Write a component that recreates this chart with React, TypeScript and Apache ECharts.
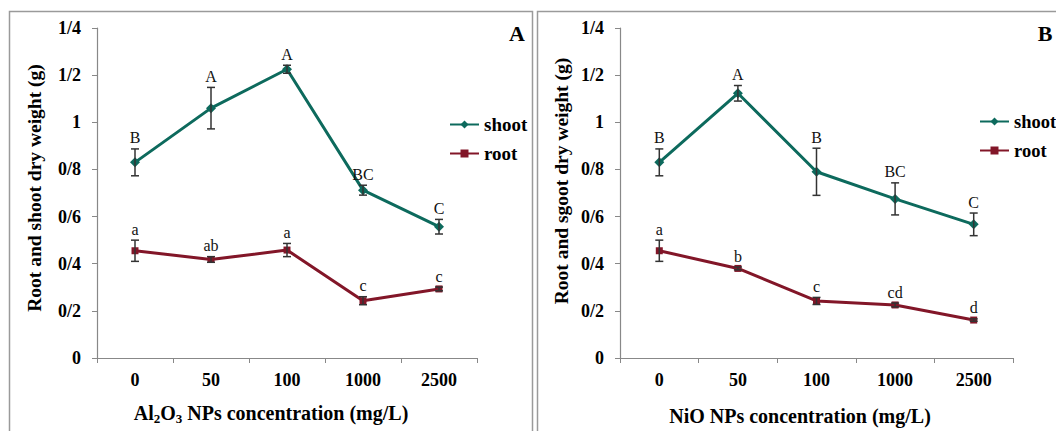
import React, { useEffect, useRef } from "react";
import * as echarts from "echarts";

const categories = ["0", "50", "100", "1000", "2500"];
const yTicks = [0, 0.2, 0.4, 0.6, 0.8, 1, 1.2, 1.4];

// Panel A (Al2O3)
const shootA = [0.83, 1.06, 1.225, 0.712, 0.557];
const shootAErr = [0.057, 0.088, 0.017, 0.021, 0.031];
const shootALetters = ["B", "A", "A", "BC", "C"];
const rootA = [0.455, 0.418, 0.458, 0.243, 0.293];
const rootAErr = [0.045, 0.012, 0.028, 0.017, 0.008];
const rootALetters = ["a", "ab", "a", "c", "c"];

// Panel B (NiO)
const shootB = [0.83, 1.123, 0.79, 0.675, 0.567];
const shootBErr = [0.057, 0.033, 0.1, 0.068, 0.048];
const shootBLetters = ["B", "A", "B", "BC", "C"];
const rootB = [0.455, 0.38, 0.242, 0.225, 0.161];
const rootBErr = [0.045, 0.006, 0.015, 0.008, 0.005];
const rootBLetters = ["a", "b", "c", "cd", "d"];

const SERIF = "Liberation Serif";
const SHOOT = "#0d6a5d";
const ROOT = "#821628";

function fmt(v: number) {
  const r = Math.round(v * 10) / 10;
  return String(r).replace(".", "/");
}

function errSeries(
  idx: number,
  values: number[],
  errs: number[],
  letters: string[]
) {
  return {
    type: "custom",
    xAxisIndex: idx,
    yAxisIndex: idx,
    silent: true,
    z: 5,
    data: values.map((v, i) => [i, v, errs[i]]),
    renderItem: (params: any, api: any) => {
      const x = api.value(0);
      const v = api.value(1);
      const e = api.value(2);
      const top = api.coord([x, v + e]);
      const bot = api.coord([x, v - e]);
      const cap = 4;
      const st = { stroke: "#333", lineWidth: 1.5 };
      return {
        type: "group",
        children: [
          { type: "line", shape: { x1: top[0], y1: top[1], x2: bot[0], y2: bot[1] }, style: st },
          { type: "line", shape: { x1: top[0] - cap, y1: top[1], x2: top[0] + cap, y2: top[1] }, style: st },
          { type: "line", shape: { x1: bot[0] - cap, y1: bot[1], x2: bot[0] + cap, y2: bot[1] }, style: st },
          {
            type: "text",
            x: top[0],
            y: top[1] - 3,
            style: {
              text: letters[params.dataIndex],
              textAlign: "center",
              textVerticalAlign: "bottom",
              fontFamily: SERIF,
              fontSize: 16,
              fill: "#111",
            },
          },
        ],
      };
    },
  };
}

function lineSeries(name: string, idx: number, values: number[], color: string, symbol: string, size: number) {
  return {
    name,
    type: "line",
    xAxisIndex: idx,
    yAxisIndex: idx,
    data: values,
    symbol,
    symbolSize: size,
    showSymbol: true,
    lineStyle: { color, width: 3 },
    itemStyle: { color },
    z: 3,
  };
}

function xAxis(idx: number) {
  return {
    type: "category",
    gridIndex: idx,
    data: categories,
    boundaryGap: true,
    axisLine: { show: true, lineStyle: { color: "#888", width: 1.2 } },
    axisTick: { show: true, alignWithLabel: false, length: 5, lineStyle: { color: "#888" } },
    axisLabel: { fontFamily: SERIF, fontWeight: "bold", fontSize: 18, color: "#000", margin: 13 },
    splitLine: { show: false },
  };
}

function yAxis(idx: number) {
  return {
    type: "value",
    gridIndex: idx,
    min: yTicks[0],
    max: yTicks[yTicks.length - 1],
    interval: 0.2,
    axisLine: { show: true, lineStyle: { color: "#888", width: 1.2 } },
    axisTick: { show: true, length: 5, lineStyle: { color: "#888" } },
    axisLabel: {
      fontFamily: SERIF,
      fontWeight: "bold",
      fontSize: 18,
      color: "#000",
      margin: 16,
      formatter: (v: number) => fmt(v),
    },
    splitLine: { show: false },
  };
}

const nameStyle = { fontFamily: SERIF, fontWeight: "bold", fontSize: 19.5, fill: "#000" };
const legendText = { fontFamily: SERIF, fontWeight: "bold", fontSize: 19, color: "#000" };

export default function App() {
  const ref = useRef<HTMLDivElement>(null);
  useEffect(() => {
    if (!ref.current) return;
    const chart = echarts.init(ref.current, undefined, { renderer: "svg" });
    chart.setOption({
      animation: false,
      backgroundColor: "#fff",
      grid: [
        { left: 97, top: 28, width: 380, height: 330 },
        { left: 620, top: 28, width: 393, height: 330 },
      ],
      xAxis: [xAxis(0), xAxis(1)],
      yAxis: [yAxis(0), yAxis(1)],
      legend: [
        {
          data: ["shoot", "root"],
          orient: "vertical",
          left: 449,
          top: 115,
          padding: 0,
          itemWidth: 29,
          itemHeight: 10,
          itemGap: 10,
          textStyle: legendText,
        },
        {
          data: ["shoot", "root"],
          orient: "vertical",
          left: 979,
          top: 112,
          padding: 0,
          itemWidth: 29,
          itemHeight: 10,
          itemGap: 10,
          textStyle: { ...legendText, fontSize: 18.5 },
        },
      ],
      series: [
        lineSeries("shoot", 0, shootA, SHOOT, "diamond", 10),
        lineSeries("root", 0, rootA, ROOT, "rect", 7),
        lineSeries("shoot", 1, shootB, SHOOT, "diamond", 10),
        lineSeries("root", 1, rootB, ROOT, "rect", 7),
        errSeries(0, shootA, shootAErr, shootALetters),
        errSeries(0, rootA, rootAErr, rootALetters),
        errSeries(1, shootB, shootBErr, shootBLetters),
        errSeries(1, rootB, rootBErr, rootBLetters),
      ],
      graphic: [
        { type: "rect", shape: { x: 9.5, y: 11.5, width: 523, height: 440 }, style: { fill: "none", stroke: "#9a9a9a", lineWidth: 1.5 } },
        { type: "rect", shape: { x: 537.5, y: 11.5, width: 540, height: 440 }, style: { fill: "none", stroke: "#9a9a9a", lineWidth: 1.5 } },
        { type: "text", x: 517, y: 33, style: { text: "A", textAlign: "center", textVerticalAlign: "middle", fontFamily: SERIF, fontWeight: "bold", fontSize: 22, fill: "#000" } },
        { type: "text", x: 1045, y: 33, style: { text: "B", textAlign: "center", textVerticalAlign: "middle", fontFamily: SERIF, fontWeight: "bold", fontSize: 22, fill: "#000" } },
        { type: "text", x: 34, y: 188, rotation: Math.PI / 2, style: { text: "Root and shoot dry weight (g)", textAlign: "center", textVerticalAlign: "middle", ...nameStyle } },
        { type: "text", x: 561, y: 181, rotation: Math.PI / 2, style: { text: "Root and sgoot dry weight (g)", textAlign: "center", textVerticalAlign: "middle", ...nameStyle } },
        {
          type: "text",
          x: 271,
          y: 413,
          style: {
            text: "{n|Al}{s|2}{n|O}{s|3}{n| NPs concentration (mg/L)}",
            textAlign: "center",
            textVerticalAlign: "middle",
            rich: {
              n: { fontFamily: SERIF, fontWeight: "bold", fontSize: 20, color: "#000" },
              s: { fontFamily: SERIF, fontWeight: "bold", fontSize: 13, color: "#000", padding: [10, 0, 0, 0] },
            },
          },
        },
        { type: "text", x: 800, y: 416, style: { text: "NiO NPs concentration (mg/L)", textAlign: "center", textVerticalAlign: "middle", fontFamily: SERIF, fontWeight: "bold", fontSize: 20, fill: "#000" } },
      ],
    });
    return () => chart.dispose();
  }, []);
  return (
    <div
      ref={ref}
      style={{ position: "fixed", left: 0, top: 0, width: 1056, height: 431 }}
    />
  );
}
